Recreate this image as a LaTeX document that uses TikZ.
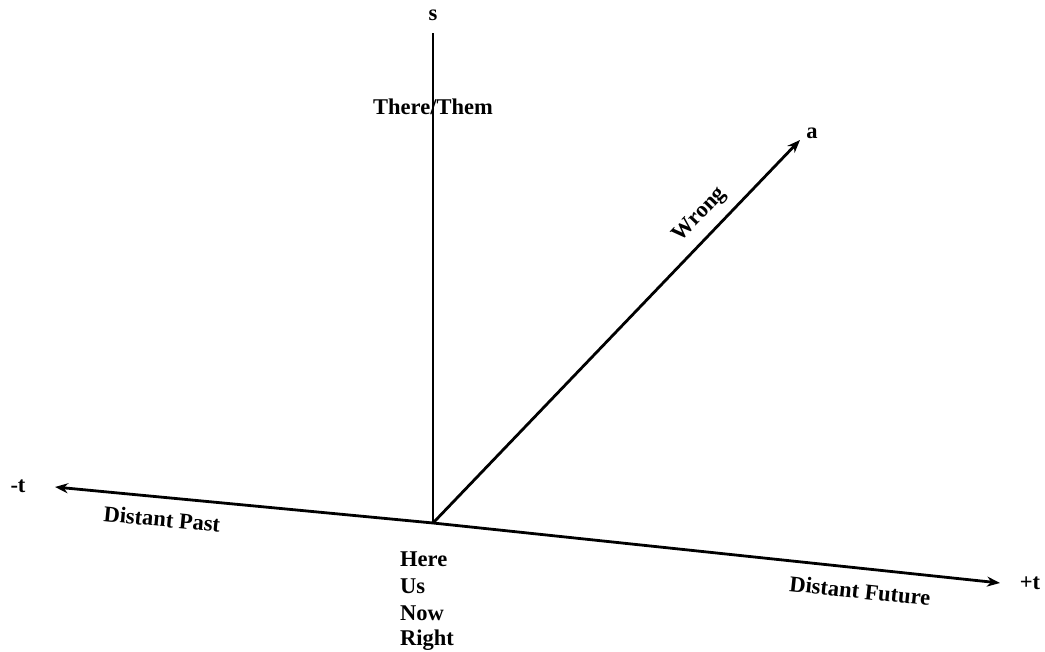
\documentclass[tikz,border=0pt]{standalone}
\usepackage{fontspec}
\setmainfont{Liberation Serif}
\usetikzlibrary{arrows.meta}
\begin{document}
\begin{tikzpicture}[x=1pt,y=-1pt,
  axis/.style={line width=2.8pt,-{Stealth[length=13pt,width=10pt]}},
  lbl/.style={font=\bfseries\fontsize{22.5}{24}\selectfont,inner sep=0pt}]
\useasboundingbox (0,0) rectangle (1045,652);
\coordinate (O) at (433,523);
\coordinate (tneg) at (55,487);
\coordinate (tpos) at (1000,583);
\coordinate (stop) at (433,33);
\coordinate (atip) at (800,140);
\draw[line width=2.8pt] (O) -- (stop);
\draw[axis] (O) -- (tneg);
\draw[axis] (O) -- (tpos);
\draw[axis] (O) -- (atip);
\node[lbl] (s) at (433,15) {s};
\node[lbl] (mt) at (18,486) {-t};
\node[lbl] (pt) at (1030,583) {+t};
\node[lbl] (a) at (812,133) {a};
\node[lbl] (there) at (433,107) {There/Them};
\node[lbl,rotate=46.2] (wrong) at (700,215) {Wrong};
\node[lbl,rotate=-5.5] (past) at (162,519) {Distant Past};
\node[lbl,rotate=-6] (future) at (860,591) {Distant Future};
\node[lbl,anchor=west] (here) at (400,559) {Here};
\node[lbl,anchor=west] (us) at (400,586) {Us};
\node[lbl,anchor=west] (now) at (400,613) {Now};
\node[lbl,anchor=west] (right) at (400,640) {Right};
\end{tikzpicture}
\end{document}
